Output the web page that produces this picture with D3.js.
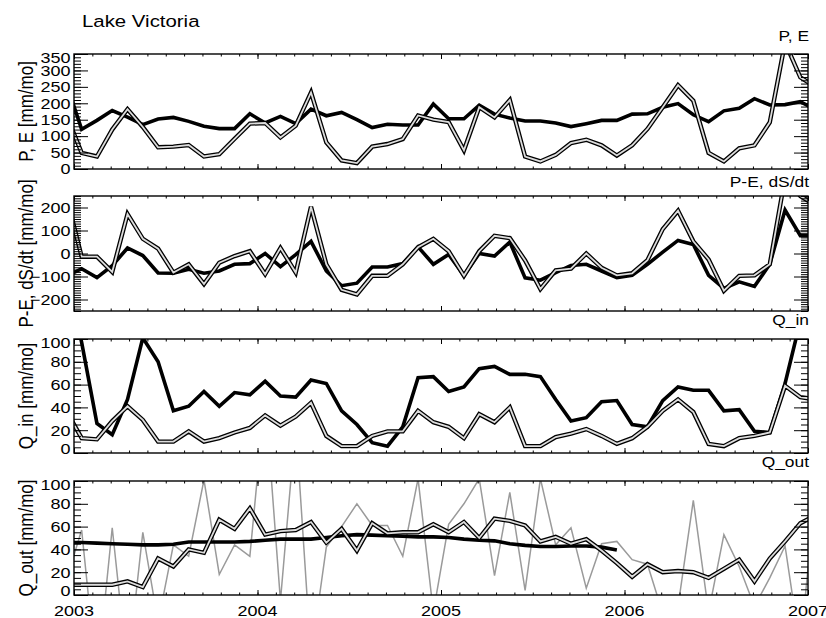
<!DOCTYPE html>
<html><head><meta charset="utf-8">
<script src="https://cdn.jsdelivr.net/npm/d3@7/dist/d3.min.js"></script>
<style>
body{margin:0;background:#fff}
svg{display:block}
text{font-family:"Liberation Sans",Arial,Helvetica,sans-serif;fill:#000}
</style>
</head><body>
<svg id="chart" width="826" height="618"></svg>
<script>
// ---------- DATA (monthly, mid-month) ----------
const months = ["2002-12",
 "2003-01","2003-02","2003-03","2003-04","2003-05","2003-06","2003-07","2003-08","2003-09","2003-10","2003-11","2003-12",
 "2004-01","2004-02","2004-03","2004-04","2004-05","2004-06","2004-07","2004-08","2004-09","2004-10","2004-11","2004-12",
 "2005-01","2005-02","2005-03","2005-04","2005-05","2005-06","2005-07","2005-08","2005-09","2005-10","2005-11","2005-12",
 "2006-01","2006-02","2006-03","2006-04","2006-05","2006-06","2006-07","2006-08","2006-09","2006-10","2006-11","2006-12",
 "2007-01"];

// Panel 1: P (double line) and E (thick black)
const precip = [165,
 49,38,120,182,128,66,68,73,38,45,92,138,
 140,96,132,233,81,26,18,68,76,91,163,150,
 143,57,188,157,210,38,23,43,79,89,72,41,
 72,122,188,255,208,49,23,63,72,142,385,279,
 250];
const evap = [260,
 121,148,178,158,135,152,157,145,130,123,123,168,
 140,160,138,182,162,172,150,126,136,134,134,198,
 153,153,194,167,155,146,146,140,129,138,148,148,
 167,168,188,199,165,144,177,185,214,195,196,205,
 180];

// Panel 2: P-E (thick black) and dS/dt (double line)
const pMinusE = [-100,
 -66,-105,-53,24,-9,-85,-86,-69,-86,-76,-47,-44,
 0,-57,-5,53,-76,-140,-129,-59,-59,-44,29,-47,
 -4,-95,0,-11,50,-106,-116,-83,-52,-47,-76,-105,
 -95,-47,6,57,39,-95,-152,-123,-143,-47,189,77,
 77];
const dSdt = [250,
 -14,-14,-80,172,64,21,-83,-47,-133,-40,-11,10,
 -90,24,-83,203,-47,-158,-178,-97,-97,-47,27,64,
 10,-97,10,77,67,-30,-155,-73,-66,0,-62,-95,
 -86,-29,106,186,53,-26,-162,-97,-95,-47,330,250,
 210];

// Panel 3: Q_in (thick black) and Q_in (double line)
const qinA = [160,
 97,26,16,47,101,80,37,41,54,41,53,51,
 63,50,49,64,61,37,25,9,6,23,66,67,
 54,58,74,76,69,69,67,47,28,31,45,46,
 25,23,46,58,55,55,37,38,19,18,61,116,
 150];
const qinB = [37,
 13,12,28,41,29,10,10,19,10,13,18,22,
 33,24,32,44,15,6,6,15,19,19,37,27,
 23,13,34,27,40,6,6,14,17,21,15,8,
 13,23,37,47,36,8,6,13,15,18,59,49,
 47];

// Panel 4: Q_out raw (thin grey), Q_out (double line), Q_out smooth (thick black)
const qoutRaw = [13,
 57,-74,59,-67,55,-24,44,34,101,18,44,34,
 175,-5,150,-54,42,60,80,61,61,34,102,-15,
 62,80,102,17,90,4,102,44,59,6,45,47,
 31,27,-16,-10,83,-15,53,25,-10,15,43,-47,
 94];
const qoutB = [9,
 9,9,9,12,7,32,25,40,37,66,58,76,
 53,56,57,64,46,58,39,63,54,55,55,62,
 55,64,50,67,65,61,47,51,45,49,39,28,
 16,27,20,21,20,15,23,31,12,32,47,63,
 70];
const qoutA = [46,
 46,45.5,45,44.5,44,44,44.5,46.5,46.5,46.5,46.5,47,
 48,49,49,49,50.5,52,53,52.5,52,51.5,51,51,
 50.5,49,48,47.5,45,43.5,42.5,42.5,43,43,42,39.5,
 null,null,null,null,null,null,null,null,null,null,null,null,
 null];

const yearTicks = [2003,2004,2005,2006,2007];
const yearLabels = ["2003","2004","2005","2006","2007"];
const panelTitles = ["P, E","P-E, dS/dt","Q_in","Q_out"];
const yTitles = ["P, E [mm/mo]","P-E, dS/dt [mm/mo]","Q_in [mm/mo]","Q_out [mm/mo]"];
const yTicks1 = [0,50,100,150,200,250,300,350];
const yTicks2 = [-200,-100,0,100,200];
const yTicks3 = [0,20,40,60,80,100];
const yTicks4 = [0,20,40,60,80,100];
const chartTitle = "Lake Victoria";

// ---------- LAYOUT ----------
const L = 74, R = 808;
const tops = [54,196,339,481];
const bots = [169,311,453,595];
const titleBase = [41,187,325,467];
const SX = 1.2; // horizontal glyph stretch seen in the reference

const panels = [
 {domain:[0,350], ticks:yTicks1, minorStep:10, series:[
   {v:evap, s:"thick"},{v:precip, s:"double"}]},
 {domain:[-250,250], ticks:yTicks2, minorStep:10, series:[
   {v:pMinusE, s:"thick"},{v:dSdt, s:"double"}]},
 {domain:[0,100], ticks:yTicks3, minorStep:5, shiftBottom:true, series:[
   {v:qinA, s:"thick"},{v:qinB, s:"double"}]},
 {domain:[0,100], ticks:yTicks4, minorStep:5, shiftBottom:true, series:[
   {v:qoutRaw, s:"thin"},{v:qoutA, s:"thick"},{v:qoutB, s:"double"}]}
];

const svg = d3.select("#chart");
const x = d3.scaleLinear().domain([2003,2007]).range([L,R]);
const tt = months.map(m => { const [yy,mo] = m.split("-").map(Number); return yy + (mo-0.5)/12; });
const xMinor = d3.range(2003, 2007.0001, 0.1);

svg.append("text").attr("transform",`translate(82,27) scale(${SX},1)`)
  .attr("font-size",17).text(chartTitle);

function cleanAxis(g){
  g.attr("font-size",null).attr("font-family",null);
  g.select(".domain").remove();
  g.selectAll(".tick line").attr("stroke","#000").attr("stroke-width",1);
}

panels.forEach((p,i)=>{
  const top = tops[i], bot = bots[i];
  const y = d3.scaleLinear().domain(p.domain).range([bot,top]);
  const g = svg.append("g");
  const cid = "clip"+i;
  svg.append("clipPath").attr("id",cid).append("rect")
    .attr("x",L).attr("y",top).attr("width",R-L).attr("height",bot-top);
  const lg = g.append("g").attr("clip-path",`url(#${cid})`);
  const line = d3.line().defined(d=>d[1]!=null).x(d=>x(d[0])).y(d=>y(d[1]));
  p.series.forEach(s=>{
    const data = tt.map((t,k)=>[t,s.v[k]]);
    if(s.s==="double"){
      lg.append("path").datum(data).attr("d",line).attr("fill","none")
        .attr("stroke","#000").attr("stroke-width",4.4).attr("stroke-miterlimit",3);
      lg.append("path").datum(data).attr("d",line).attr("fill","none")
        .attr("stroke","#dcdcdc").attr("stroke-width",1.8).attr("stroke-miterlimit",3);
    } else if(s.s==="thick"){
      lg.append("path").datum(data).attr("d",line).attr("fill","none")
        .attr("stroke","#000").attr("stroke-width",3.6).attr("stroke-miterlimit",3);
    } else {
      lg.append("path").datum(data).attr("d",line).attr("fill","none")
        .attr("stroke","#9a9a9a").attr("stroke-width",1.5);
    }
  });

  // y minor ticks
  const yMinorVals = d3.range(p.domain[0], p.domain[1]+0.001, p.minorStep);
  const gLm = g.append("g").attr("transform",`translate(${L},0)`)
    .call(d3.axisLeft(y).tickValues(yMinorVals).tickSize(-7).tickSizeOuter(0).tickFormat(""));
  cleanAxis(gLm);
  const gRm = g.append("g").attr("transform",`translate(${R},0)`)
    .call(d3.axisRight(y).tickValues(yMinorVals).tickSize(-7).tickSizeOuter(0).tickFormat(""));
  cleanAxis(gRm);
  // y major ticks
  const gL = g.append("g").attr("transform",`translate(${L},0)`)
    .call(d3.axisLeft(y).tickValues(p.ticks).tickSize(-14).tickPadding(3).tickSizeOuter(0));
  cleanAxis(gL);
  gL.selectAll(".tick text").attr("font-size",15)
    .attr("transform",d=>{
      let dy = 0;
      if(d===p.domain[1]) dy = 4;
      if(d===p.domain[0] && p.shiftBottom) dy = -4;
      return `translate(0,${dy}) scale(${SX},1)`;
    });
  const gR = g.append("g").attr("transform",`translate(${R},0)`)
    .call(d3.axisRight(y).tickValues(p.ticks).tickSize(-14).tickSizeOuter(0).tickFormat(""));
  cleanAxis(gR);

  // x ticks top & bottom
  [[top,d3.axisTop],[bot,d3.axisBottom]].forEach(([yy,ax])=>{
    const gm = g.append("g").attr("transform",`translate(0,${yy})`)
      .call(ax(x).tickValues(xMinor).tickSize(-2.5).tickSizeOuter(0).tickFormat(""));
    cleanAxis(gm);
    const gM = g.append("g").attr("transform",`translate(0,${yy})`)
      .call(ax(x).tickValues(yearTicks).tickSize(-5).tickSizeOuter(0).tickFormat(""));
    cleanAxis(gM);
  });

  // frame
  g.append("rect").attr("x",L).attr("y",top).attr("width",R-L).attr("height",bot-top)
    .attr("fill","none").attr("stroke","#000").attr("stroke-width",1.4);

  // panel title (right aligned)
  g.append("text").attr("transform",`translate(${R+1},${titleBase[i]}) scale(${SX},1)`)
    .attr("text-anchor","end").attr("font-size",14.5).text(panelTitles[i]);

  // y axis title
  g.append("text").attr("transform",`translate(33,${(top+bot)/2}) rotate(-90) scale(1,${SX})`)
    .attr("text-anchor","middle").attr("font-size",17).text(yTitles[i]);
});

// x labels under last panel
svg.append("g").selectAll("text").data(yearTicks).join("text")
  .attr("transform",d=>`translate(${x(d)},616) scale(${SX},1)`)
  .attr("text-anchor","middle").attr("font-size",15)
  .text((d,k)=>yearLabels[k]);
</script>
</body></html>
